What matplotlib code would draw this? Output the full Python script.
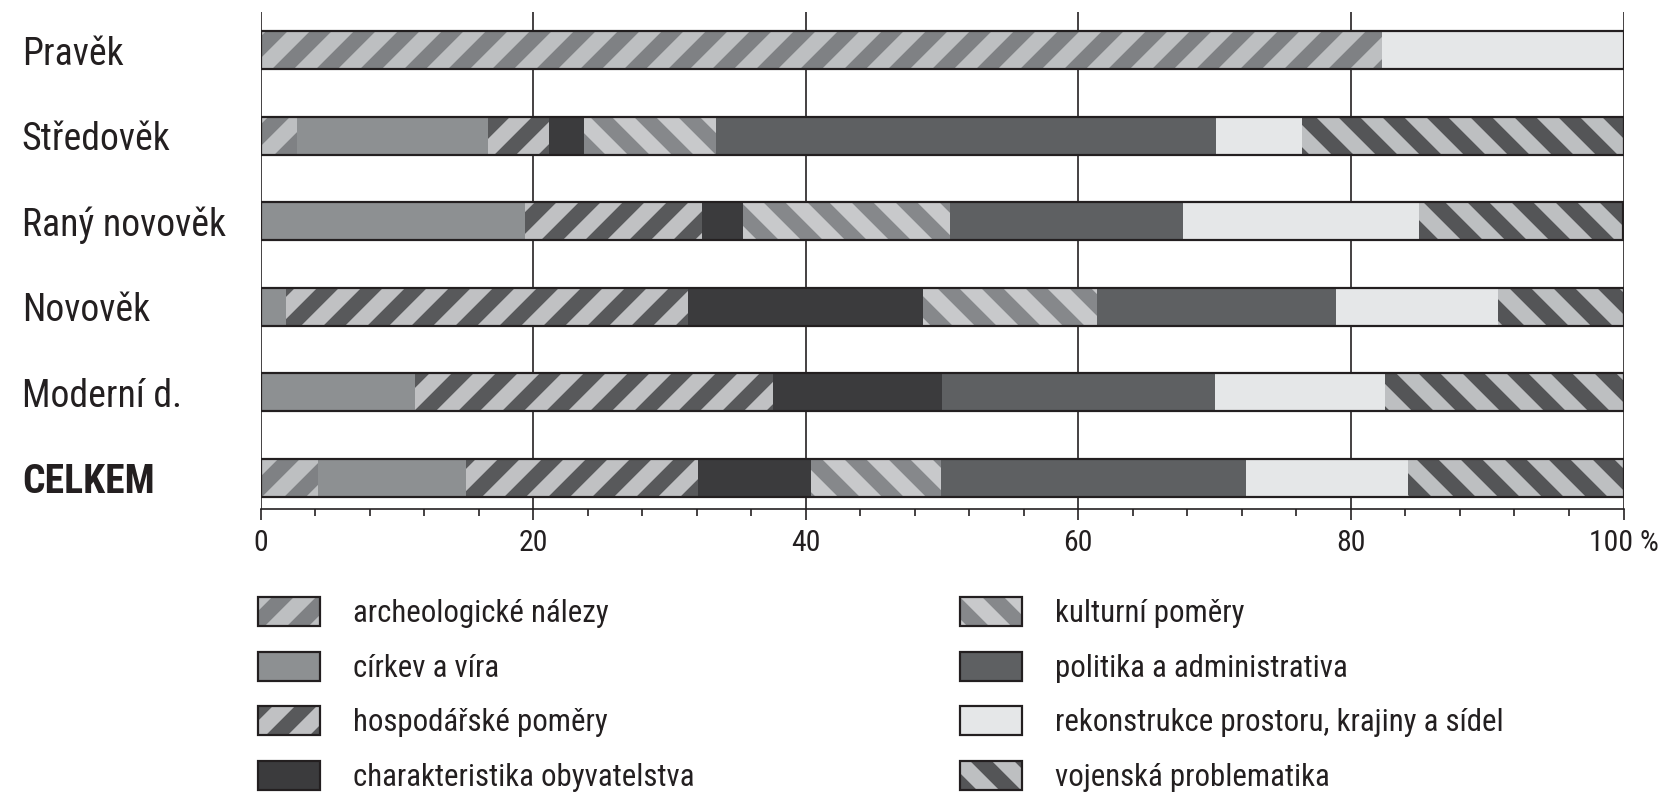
import matplotlib
matplotlib.use("Agg")
import matplotlib.pyplot as plt
import matplotlib.font_manager as fm
from matplotlib.patches import Patch
from matplotlib.legend_handler import HandlerTuple
from matplotlib.ticker import MultipleLocator
import numpy as np

# ---------------- data ----------------
categories = ["Pravěk", "Středověk", "Raný novověk", "Novověk", "Moderní d.", "CELKEM"]
series_names = ["archeologické nálezy", "církev a víra", "hospodářské poměry",
                "charakteristika obyvatelstva", "kulturní poměry",
                "politika a administrativa", "rekonstrukce prostoru, krajiny a sídel",
                "vojenská problematika"]
archeo = [82.3, 2.7, 0.0, 0.0, 0.0, 4.2]
cirkev = [0.0, 14.0, 19.4, 1.9, 11.3, 10.9]
hosp = [0.0, 4.5, 13.0, 29.5, 26.3, 17.0]
charakt = [0.0, 2.5, 3.0, 17.2, 12.4, 8.3]
kult = [0.0, 9.7, 15.2, 12.8, 0.0, 9.5]
polit = [0.0, 36.7, 17.1, 17.5, 20.0, 22.4]
rekon = [17.7, 6.3, 17.3, 11.9, 12.5, 11.9]
vojen = [0.0, 23.6, 15.0, 9.2, 17.5, 15.8]
xticks = [0, 20, 40, 60, 80, 100]
xtick_labels = ["0", "20", "40", "60", "80", "100 %"]

series = [archeo, cirkev, hosp, charakt, kult, polit, rekon, vojen]

# styles: (facecolor, hatch, hatchcolor)
styles = [
    ("#bdbfc1", "//", "#7f8184"),
    ("#8d9092", "", "#8d9092"),
    ("#c0c1c3", "//", "#58595b"),
    ("#3b3b3d", "", "#3b3b3d"),
    ("#c8c9cb", "\\\\", "#86888b"),
    ("#5e6062", "", "#5e6062"),
    ("#e5e7e8", "", "#e5e7e8"),
    ("#bdbfc1", "\\\\", "#545557"),
]


# ---------------- font choice (prefer a narrow sans) ----------------
def pick_font():
    entries = fm.fontManager.ttflist
    names = {f.name for f in entries}
    for n in ["Liberation Sans Narrow", "Noto Sans Condensed", "Noto Sans SemiCondensed",
              "DejaVu Sans Condensed", "Roboto Condensed", "Open Sans Condensed"]:
        if n in names:
            return n, "normal"
    for fam in ["Noto Sans", "DejaVu Sans", "Roboto", "Open Sans", "Liberation Sans"]:
        for st in ["condensed", "semi-condensed"]:
            if any(f.name == fam and f.stretch == st for f in entries):
                return fam, st
    for fam in ["Roboto", "Liberation Sans"]:
        if fam in names:
            return fam, "normal"
    return "DejaVu Sans", "normal"


FAM, STRETCH = pick_font()

DPI = 264
plt.rcParams["hatch.linewidth"] = 4.2
plt.rcParams["font.family"] = [FAM, "DejaVu Sans"]
plt.rcParams["font.stretch"] = STRETCH
INK = "#231f20"

fig = plt.figure(figsize=(1665 / DPI, 800 / DPI), dpi=DPI)
renderer = fig.canvas.get_renderer()


def fit_size(text, target_px, max_size, weight="normal"):
    t = fig.text(0, 0, text, fontsize=10, fontweight=weight)
    w = t.get_window_extent(renderer).width
    t.remove()
    return min(max_size, 10 * target_px / w)


label_size = fit_size("Raný novověk", 204, 11.8)
cel_size = fit_size("CELKEM", 164, label_size * 1.05, weight="bold")
leg_size = fit_size("charakteristika obyvatelstva", 342, 8.8)
tick_size = fit_size("100 %", 70, 8.8)

ax = fig.add_axes([260.5 / 1665, 1 - 509 / 800, (1623.5 - 260.5) / 1665, (509 - 12) / 800])

y = np.arange(len(categories))
bh = 0.445
left = np.zeros(len(categories))
for vals, (fc, hatch, hc) in zip(series, styles):
    v = np.array(vals)
    ax.barh(y, v, left=left, height=bh, color=fc, edgecolor=hc, hatch=hatch,
            linewidth=0, zorder=2)
    left += v
# outline of each row
ax.barh(y, left, height=bh, fill=False, edgecolor=INK, linewidth=0.6, zorder=3)

ax.set_xlim(0, 100)
ax.set_ylim(5.363, -0.45)

ax.set_xticks(xticks)
ax.set_xticklabels(xtick_labels, fontsize=tick_size, color=INK)
ax.xaxis.set_minor_locator(MultipleLocator(4))
ax.tick_params(axis="x", which="major", length=3.0, width=0.45, color=INK, pad=2.5)
ax.tick_params(axis="x", which="minor", length=1.9, width=0.45, color=INK)

ax.set_yticks(y)
ax.set_yticklabels(categories, fontsize=label_size, color=INK)
ax.tick_params(axis="y", length=0, pad=65.1)
for lab in ax.get_yticklabels():
    lab.set_horizontalalignment("left")
cel = ax.get_yticklabels()[-1]
cel.set_fontweight("bold")
cel.set_fontsize(cel_size)

ax.grid(axis="x", color=INK, linewidth=0.45)
ax.set_axisbelow(True)
for s in ["left", "top", "right"]:
    ax.spines[s].set_visible(False)
ax.spines["bottom"].set_color(INK)
ax.spines["bottom"].set_linewidth(0.45)

# legend
handles = []
for fc, hatch, hc in styles:
    p1 = Patch(facecolor=fc, hatch=hatch, edgecolor=hc, linewidth=0)
    p2 = Patch(fill=False, edgecolor=INK, linewidth=0.6)
    handles.append((p1, p2))

fs_px = leg_size * DPI / 72
leg_kw = dict(frameon=False, fontsize=leg_size, handlelength=62 / fs_px, handleheight=33 / fs_px,
              handletextpad=33 / fs_px, labelspacing=(56.5 - 33) / fs_px, borderpad=0,
              borderaxespad=0, handler_map={tuple: HandlerTuple(ndivide=1, pad=0)},
              labelcolor=INK)
leg1 = fig.legend(handles[:4], series_names[:4], loc="upper left",
                  bbox_to_anchor=(258 / 1665, 1 - 597 / 800), **leg_kw)
leg2 = fig.legend(handles[4:], series_names[4:], loc="upper left",
                  bbox_to_anchor=(960.5 / 1665, 1 - 597 / 800), **leg_kw)

fig.savefig("out.png", dpi=DPI)
